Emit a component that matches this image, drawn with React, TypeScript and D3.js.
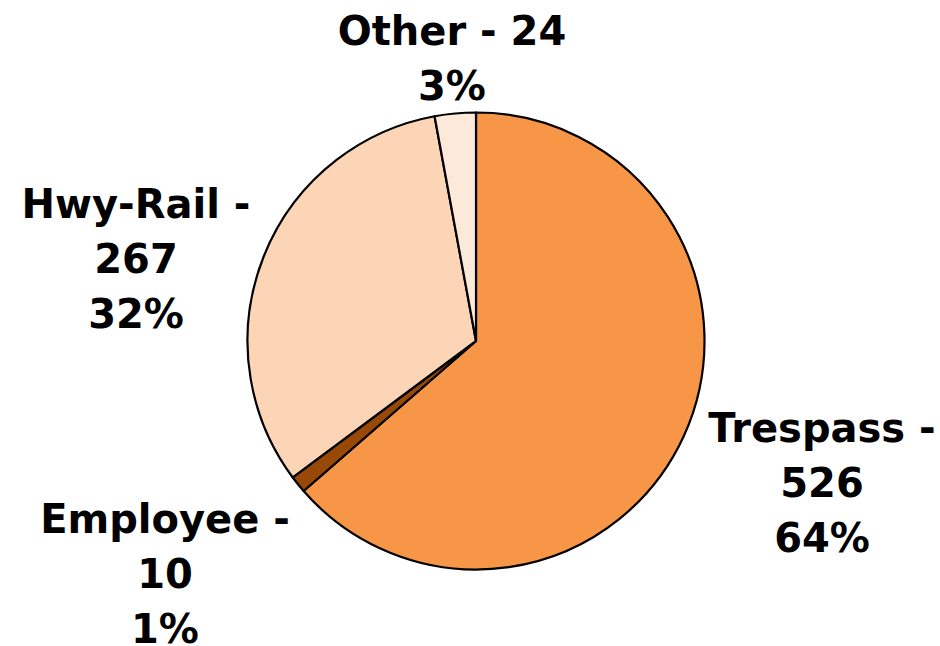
import React from "react";
import * as d3 from "d3";

const categories = ["Trespass", "Employee", "Hwy-Rail", "Other"];
const values = [526, 10, 267, 24];
const percentLabels = ["64%", "1%", "32%", "3%"];
const colors = ["#F79646", "#984807", "#FBD5B5", "#FDE9D9"];

// label text lines per slice
const labelLines = [
  ["Trespass -", "526", "64%"],
  ["Employee -", "10", "1%"],
  ["Hwy-Rail -", "267", "32%"],
  ["Other - 24", "3%"],
];
// label anchor (center x, first baseline y)
const labelPos = [
  [822, 442],
  [165, 533],
  [136, 218],
  [452, 45],
];

export default function App() {
  const W = 940, H = 646;
  const cx = 476, cy = 341, r = 228.5;
  const pie = d3.pie<number>().sort(null).value((d) => d)(values);
  const arc = d3.arc<d3.PieArcDatum<number>>().innerRadius(0).outerRadius(r);
  return (
    <svg width={W} height={H} style={{ position: "absolute", left: 0, top: 0, background: "#fff" }}>
      <g transform={`translate(${cx},${cy})`}>
        {pie.map((p, i) => (
          <path key={categories[i]} d={arc(p) || ""} fill={colors[i]} stroke="#000" strokeWidth={2.2} strokeLinejoin="round" />
        ))}
      </g>
      {labelLines.map((lines, i) => (
        <text key={i} textAnchor="middle" fontFamily="DejaVu Sans" fontWeight="bold" fontSize={40} fill="#000">
          {lines.map((l, j) => (
            <tspan key={j} x={labelPos[i][0]} y={labelPos[i][1] + j * 55}>{l}</tspan>
          ))}
        </text>
      ))}
    </svg>
  );
}
